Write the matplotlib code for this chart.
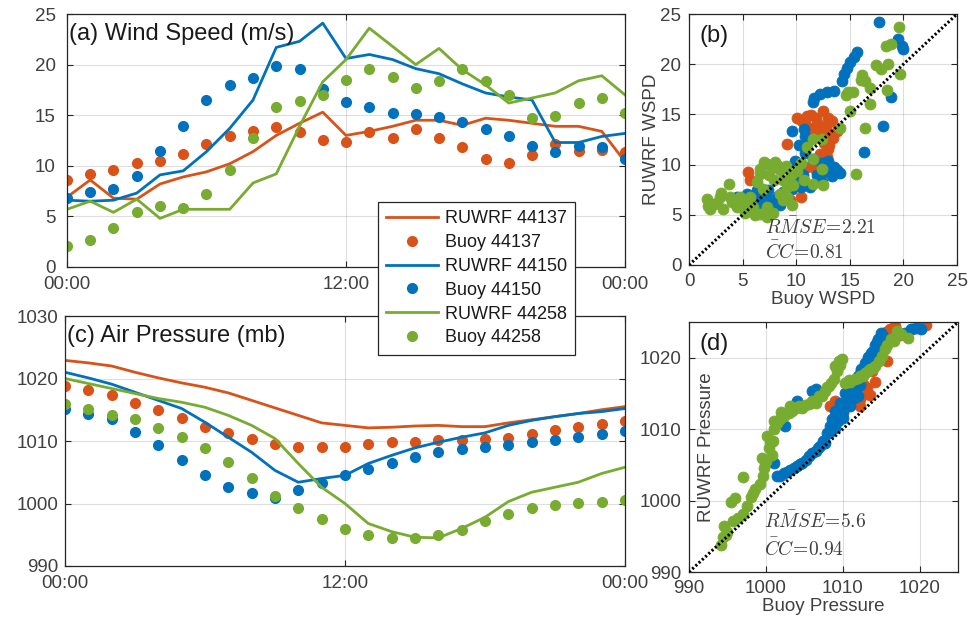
import matplotlib
matplotlib.use("Agg")
import matplotlib.pyplot as plt
import numpy as np

plt.rcParams["font.family"] = ["Liberation Sans", "DejaVu Sans"]
plt.rcParams["mathtext.fontset"] = "cm"

# hourly time axis, 00:00 to 00:00 next day
HOURS = np.arange(25)
TIME_TICKS = [0, 12, 24]
TIME_LABELS = ["00:00", "12:00", "00:00"]

STATIONS = ["44137", "44150", "44258"]
COLORS = ["#D95319", "#0072BD", "#77AC30"]

# wind speed (m/s), hourly
wrf_wspd_44137 = [6.9, 8.6, 6.8, 6.7, 8.2, 8.9, 9.4, 10.2, 11.4, 13.0, 14.2, 15.3, 13.0,
                  13.4, 13.9, 14.5, 14.5, 14.0, 14.7, 14.5, 14.2, 13.9, 13.9, 13.4, 10.4]
buoy_wspd_44137 = [8.6, 9.2, 9.6, 10.3, 10.5, 11.2, 12.2, 12.9, 13.4, 13.8, 13.3, 12.5, 12.4,
                   13.3, 12.7, 13.6, 12.7, 11.9, 10.7, 10.3, 11.1, 12.2, 11.5, 11.6, 11.4]
wrf_wspd_44150 = [6.6, 6.5, 6.6, 7.3, 9.1, 9.5, 11.4, 13.7, 16.5, 21.7, 22.3, 24.1, 20.6,
                  21.0, 20.5, 19.6, 19.1, 18.1, 17.2, 16.8, 16.5, 12.3, 12.3, 12.9, 13.2]
buoy_wspd_44150 = [6.8, 7.4, 7.7, 9.0, 11.5, 13.9, 16.5, 18.0, 18.7, 19.9, 19.6, 17.6, 16.3,
                   15.8, 15.2, 15.1, 14.8, 14.3, 13.6, 12.9, 12.0, 11.4, 12.0, 11.9, 10.7]
wrf_wspd_44258 = [5.7, 6.5, 5.4, 6.7, 4.8, 5.7, 5.7, 5.7, 8.3, 9.2, 13.9, 18.3, 20.5,
                  23.6, 21.8, 20.0, 21.6, 19.5, 18.0, 16.2, 16.7, 17.2, 18.4, 18.9, 17.0]
buoy_wspd_44258 = [2.1, 2.7, 3.9, 5.4, 6.0, 5.8, 7.2, 9.6, 12.7, 15.8, 16.4, 17.0, 18.5,
                   19.6, 18.8, 17.7, 18.4, 19.6, 18.4, 17.0, 14.7, 14.9, 16.2, 16.7, 15.2]

# air pressure (mb), hourly
wrf_pres_44137 = [1022.9, 1022.5, 1022.0, 1021.0, 1020.1, 1019.3, 1018.6, 1017.7, 1016.5,
                  1015.3, 1014.1, 1012.9, 1012.5, 1012.1, 1012.2, 1012.4, 1012.5, 1012.3,
                  1012.3, 1012.9, 1013.4, 1013.9, 1014.4, 1015.0, 1015.5]
buoy_pres_44137 = [1018.8, 1018.1, 1017.3, 1016.1, 1015.0, 1013.7, 1012.2, 1011.3, 1010.4,
                   1009.5, 1009.1, 1009.1, 1009.1, 1009.6, 1009.8, 1009.8, 1010.1, 1010.2,
                   1010.4, 1010.5, 1011.2, 1011.7, 1012.3, 1012.8, 1013.2]
wrf_pres_44150 = [1021.0, 1020.1, 1019.1, 1017.8, 1016.5, 1015.2, 1013.0, 1010.6, 1008.2,
                  1005.3, 1003.4, 1004.0, 1004.5, 1006.4, 1007.7, 1008.9, 1009.8, 1010.6,
                  1011.3, 1012.5, 1013.3, 1013.9, 1014.4, 1014.7, 1015.2]
buoy_pres_44150 = [1015.2, 1014.4, 1013.5, 1011.5, 1009.4, 1006.9, 1004.6, 1002.6, 1001.7,
                   1000.9, 1002.1, 1003.3, 1004.5, 1005.6, 1006.5, 1007.5, 1008.2, 1008.7,
                   1009.0, 1009.4, 1009.8, 1010.1, 1010.7, 1011.1, 1011.6]
wrf_pres_44258 = [1020.0, 1019.2, 1018.4, 1017.6, 1016.8, 1016.2, 1015.4, 1014.1, 1012.5,
                  1010.4, 1006.4, 1002.6, 1000.0, 996.8, 995.5, 994.6, 994.5, 996.0,
                  997.8, 1000.3, 1001.8, 1002.6, 1003.4, 1004.8, 1005.8]
buoy_pres_44258 = [1015.9, 1015.2, 1014.2, 1013.5, 1012.1, 1010.6, 1008.9, 1006.7, 1004.1,
                   1001.2, 999.3, 997.6, 995.9, 994.9, 994.4, 994.4, 994.9, 995.7,
                   997.2, 998.3, 999.3, 999.7, 1000.1, 1000.3, 1000.5]

# buoy vs model wind speed pairs
sc_wspd_buoy_44137 = [10.1, 10.5, 11.0, 11.8, 12.5, 13.0, 13.3, 13.8, 12.9, 12.1, 13.0, 12.9,
                      12.2, 11.6, 11.0, 10.4, 9.1, 5.5, 5.7, 7.9, 7.6, 10.4, 9.4, 12.0, 10.2,
                      12.6, 11.4, 10.8, 11.4, 12.0, 12.8, 13.4, 12.7, 11.8, 12.5, 13.1]
sc_wspd_wrf_44137 = [14.6, 14.3, 14.8, 14.6, 15.3, 14.6, 14.3, 13.3, 13.1, 13.3, 11.6, 10.8,
                     11.1, 10.1, 9.8, 9.1, 12.1, 9.3, 8.5, 6.5, 5.6, 6.8, 6.5, 8.9, 8.0,
                     12.2, 13.6, 14.0, 14.9, 14.0, 13.8, 12.6, 12.2, 9.5, 9.8, 12.0]
sc_wspd_buoy_44150 = [17.7, 19.5, 19.9, 20.0, 15.7, 15.4, 15.0, 14.7, 14.5, 14.3, 13.5, 12.9,
                      12.2, 11.7, 11.6, 18.8, 18.1, 16.3, 9.6, 10.7, 10.8, 11.0, 10.8, 11.6,
                      12.4, 13.0, 13.8, 14.1, 13.3, 12.4, 11.3, 10.4, 9.6, 8.8, 7.4, 6.3,
                      5.4, 4.5, 4.8, 5.7, 6.6, 7.9, 7.6, 8.3, 12.6, 13.5, 11.9, 10.6, 9.9,
                      10.3, 9.8, 7.0, 6.0, 8.5]
sc_wspd_wrf_44150 = [24.2, 22.5, 21.8, 21.5, 21.2, 20.7, 20.2, 19.6, 19.0, 18.3, 17.3, 17.2,
                     17.0, 16.6, 16.2, 16.7, 13.8, 11.3, 13.3, 13.5, 12.8, 12.2, 11.2, 10.6,
                     10.2, 10.4, 9.5, 9.2, 8.9, 8.3, 7.8, 7.8, 7.6, 7.3, 7.5, 7.5,
                     7.1, 6.8, 6.1, 6.5, 6.2, 5.8, 6.5, 6.9, 9.3, 9.8, 9.0, 9.0, 10.4,
                     12.0, 8.3, 6.9, 6.9, 6.0]
sc_wspd_buoy_44258 = [19.6, 18.8, 18.4, 17.4, 18.6, 16.1, 16.0, 14.6, 14.8, 16.9, 16.9, 18.5,
                      19.7, 15.0, 14.1, 16.4, 15.6, 11.0, 11.6, 12.4, 11.6, 12.4, 12.5, 11.6,
                      10.7, 9.7, 9.5, 8.8, 7.9, 7.3, 8.2, 6.6, 7.9, 6.3, 5.7, 4.8, 3.8, 2.9,
                      1.7, 2.0, 3.2, 4.5, 6.0, 6.6, 7.3, 7.3, 3.7, 9.1, 9.6, 9.1, 8.5, 2.6,
                      5.2, 7.0, 8.0, 8.5, 7.5, 6.6, 9.0, 10.1, 10.4, 6.2, 5.2, 4.0, 3.0,
                      2.3, 1.8, 7.8, 8.8, 6.9, 17.9, 16.4, 15.3]
sc_wspd_wrf_44258 = [23.7, 22.0, 21.8, 19.9, 20.0, 18.9, 18.4, 16.9, 17.2, 17.6, 16.0, 17.4,
                     19.0, 15.3, 13.6, 13.6, 9.1, 11.8, 12.5, 12.5, 10.6, 9.6, 8.0, 8.1,
                     8.5, 8.0, 9.0, 8.5, 9.8, 10.1, 10.0, 9.1, 8.5, 8.3, 6.8, 6.8, 6.8, 6.8,
                     6.6, 5.6, 5.6, 5.8, 5.8, 5.1, 4.8, 5.8, 8.1, 6.8, 6.0, 7.8, 7.1, 6.2,
                     6.3, 10.3, 10.3, 9.5, 9.0, 9.6, 9.9, 9.4, 10.2, 5.0, 5.2, 6.3, 7.2,
                     6.1, 5.9, 5.2, 6.5, 7.6, 19.5, 18.3, 17.2]

# buoy vs model pressure pairs
sc_pres_buoy_44137 = [1008.4, 1009.0, 1009.6, 1010.6, 1011.4, 1012.2, 1012.8, 1013.2, 1012.6,
                      1013.8, 1014.6, 1015.2, 1015.6, 1016.8, 1020.4, 1019.0, 1013.5, 1012.2,
                      1010.0, 1014.2, 1015.8, 1017.5, 1016.2, 1020.8]
sc_pres_wrf_44137 = [1013.3, 1013.9, 1012.8, 1013.4, 1014.0, 1014.2, 1014.9, 1015.8, 1016.3,
                     1018.2, 1020.0, 1021.6, 1023.6, 1024.4, 1024.4, 1024.0, 1014.8, 1013.3,
                     1012.3, 1016.6, 1019.5, 1023.2, 1024.0, 1024.6]
sc_pres_buoy_44150 = [1001.5, 1002.3, 1003.2, 1004.0, 1004.7, 1005.6, 1006.5, 1007.1, 1007.7,
                      1008.2, 1008.6, 1009.0, 1009.6, 1010.3, 1011.0, 1011.6, 1012.0, 1012.4,
                      1012.9, 1013.3, 1013.7, 1014.2, 1014.6, 1015.0, 1018.1, 1018.9, 1020.2,
                      1001.1, 1002.5, 1004.1, 1006.0, 1006.5, 1008.8, 1009.4, 1010.0, 1010.8,
                      1011.4, 1012.2, 1013.6, 1014.3, 1001.9, 1002.8, 1003.6, 1004.4, 1005.2,
                      1006.0, 1006.8, 1007.4, 1008.0, 1008.4, 1009.2, 1009.8, 1010.6, 1011.8,
                      1012.4, 1013.3, 1014.0, 1014.4, 1015.2, 1019.5, 1009.0, 1010.0, 1011.0,
                      1012.0]
sc_pres_wrf_44150 = [1003.5, 1003.9, 1004.3, 1004.8, 1005.3, 1006.2, 1007.0, 1007.6, 1008.1,
                     1009.5, 1011.4, 1012.6, 1013.7, 1015.1, 1015.4, 1015.6, 1017.4, 1018.4,
                     1019.3, 1020.1, 1020.7, 1021.8, 1022.6, 1023.5, 1023.5, 1024.0, 1024.0,
                     1005.2, 1010.5, 1014.0, 1015.3, 1015.6, 1010.5, 1011.2, 1012.6, 1014.0,
                     1014.3, 1016.2, 1019.8, 1020.5, 1003.4, 1004.0, 1004.6, 1005.1, 1005.7,
                     1006.6, 1007.4, 1008.3, 1009.4, 1010.4, 1012.0, 1013.0, 1014.2, 1016.4,
                     1018.2, 1019.8, 1021.0, 1022.2, 1023.0, 1024.1, 1010.2, 1011.5, 1013.2,
                     1014.6]
sc_pres_buoy_44258 = [994.4, 994.6, 995.0, 995.7, 995.5, 996.0, 997.0, 997.0, 998.1, 998.3,
                      999.2, 999.8, 1000.0, 1000.4, 1000.9, 1001.1, 1001.9, 1003.0, 1003.9,
                      1004.7, 1005.6, 1006.5, 1006.9, 1007.7, 1008.2, 1008.8, 1009.0, 1009.5,
                      1009.9, 1010.3, 1011.0, 1011.6, 1012.3, 1012.9, 1013.6, 1014.2, 1015.1,
                      1015.5, 1016.3, 1017.0, 1017.6, 1018.5, 999.5, 1000.2, 994.2, 1001.5,
                      1002.4, 1003.4, 1004.3, 1005.1, 1006.0, 1007.3, 1007.9, 1008.5, 1009.2,
                      1009.7, 1010.8, 1012.0, 1012.6, 1013.3, 1013.9, 1014.7, 1015.8, 1016.7,
                      999.6, 998.6, 997.6, 1000.6, 1000.8, 999.9, 996.4, 994.8, 1001.0,
                      1002.0, 1003.2]
sc_pres_wrf_44258 = [994.9, 996.5, 995.6, 997.2, 999.8, 1000.3, 998.1, 1003.3, 1000.5, 1001.0,
                     1002.3, 1004.5, 1005.6, 1007.4, 1008.3, 1010.0, 1011.4, 1012.3, 1013.0,
                     1013.0, 1013.5, 1013.7, 1014.6, 1015.3, 1016.0, 1017.0, 1018.8, 1019.5,
                     1019.8, 1016.5, 1016.6, 1017.0, 1017.4, 1017.9, 1018.4, 1018.8, 1020.2,
                     1021.2, 1022.6, 1023.7, 1023.3, 1022.8, 1006.0, 1009.0, 993.8, 1010.8,
                     1011.9, 1012.6, 1013.3, 1013.4, 1013.9, 1014.6, 1015.9, 1016.5, 1018.2,
                     1019.0, 1016.9, 1017.2, 1017.4, 1018.2, 1018.5, 1019.6, 1021.8, 1022.3,
                     1003.5, 1001.6, 999.2, 1008.0, 1006.4, 1005.2, 997.5, 995.2, 1011.2,
                     1012.4, 1013.2]

AX_COLOR = "#262626"
LABEL_COLOR = "#404040"
TICK_SIZE = 13.5


def style_axes(ax, ypad, xpad=5.5):
    """Matlab-like box: inward ticks on every side, faint grid."""
    ax.tick_params(direction="in", length=4, width=0.8, top=True, right=True,
                   color=AX_COLOR, labelcolor=LABEL_COLOR, labelsize=TICK_SIZE)
    ax.tick_params(axis="x", pad=xpad)
    ax.tick_params(axis="y", pad=ypad)
    ax.grid(True, color=AX_COLOR, alpha=0.15, linewidth=0.8)
    ax.set_axisbelow(True)
    for spine in ax.spines.values():
        spine.set_color(AX_COLOR)
        spine.set_linewidth(0.9)


def plot_series(ax, wrf, buoy, label_text, ylim, yticks, ypad):
    handles = []
    for station, color, w, b in zip(STATIONS, COLORS, wrf, buoy):
        line, = ax.plot(HOURS, w, color=color, lw=2.0, label=f"RUWRF {station}")
        dots, = ax.plot(HOURS, b, "o", color=color, ms=7, mec=color,
                        linestyle="none", label=f"Buoy {station}")
        handles += [line, dots]
    ax.set_xlim(0, 24)
    ax.set_xticks(TIME_TICKS)
    ax.set_xticklabels(TIME_LABELS)
    ax.set_ylim(*ylim)
    ax.set_yticks(yticks)
    style_axes(ax, ypad, xpad=6.5)
    ax.text(0.004, 0.965, label_text, transform=ax.transAxes, ha="left", va="top",
            fontsize=17, color="#1a1a1a")
    return handles


def plot_scatter(ax, xs, ys, lims, ticks, panel, stats, stat_pos, xlabel, ylabel,
                 xlabel_y, ylabel_x):
    for color, x, y in zip(COLORS, xs, ys):
        ax.scatter(x, y, s=62, color=color, edgecolors=color, linewidths=0.6, zorder=2)
    ax.plot(lims, lims, color="black", lw=2.2, linestyle=(0, (0.7, 0.75)), zorder=3)
    ax.set_xlim(*lims)
    ax.set_ylim(*lims)
    ax.set_xticks(ticks)
    ax.set_yticks(ticks)
    style_axes(ax, 5.5)
    ax.set_xlabel(xlabel, fontsize=TICK_SIZE, color=LABEL_COLOR)
    ax.set_ylabel(ylabel, fontsize=TICK_SIZE, color=LABEL_COLOR)
    ax.xaxis.set_label_coords(0.5, xlabel_y)
    ax.yaxis.set_label_coords(ylabel_x, 0.5)
    ax.text(0.04, 0.955, panel, transform=ax.transAxes, ha="left", va="top",
            fontsize=17, color="#1a1a1a")
    for (tx, ty), s in zip(stat_pos, stats):
        ax.text(tx, ty, s, fontsize=14, color=LABEL_COLOR, va="center", ha="left",
                zorder=4)


fig = plt.figure(figsize=(9.68, 6.2), dpi=100)
ax_a = fig.add_axes([0.0692, 0.5694, 0.5765, 0.408])
ax_b = fig.add_axes([0.7118, 0.5726, 0.2769, 0.4048])
ax_c = fig.add_axes([0.0671, 0.0871, 0.5785, 0.4032])
ax_d = fig.add_axes([0.7118, 0.0774, 0.2779, 0.4032])

legend_handles = plot_series(
    ax_a,
    [wrf_wspd_44137, wrf_wspd_44150, wrf_wspd_44258],
    [buoy_wspd_44137, buoy_wspd_44150, buoy_wspd_44258],
    "(a) Wind Speed (m/s)", (0, 25), np.arange(0, 26, 5), 8,
)
plot_series(
    ax_c,
    [wrf_pres_44137, wrf_pres_44150, wrf_pres_44258],
    [buoy_pres_44137, buoy_pres_44150, buoy_pres_44258],
    "(c) Air Pressure (mb)", (990, 1030), np.arange(990, 1031, 10), 4.5,
)

plot_scatter(
    ax_b,
    [sc_wspd_buoy_44137, sc_wspd_buoy_44150, sc_wspd_buoy_44258],
    [sc_wspd_wrf_44137, sc_wspd_wrf_44150, sc_wspd_wrf_44258],
    (0, 25), np.arange(0, 26, 5), "(b)",
    [r"$R\bar{M}SE\!=\!2.21$", r"$\bar{C}C\!=\!0.81$"], [(7.1, 3.7), (7.1, 1.3)],
    "Buoy WSPD", "RUWRF WSPD", -0.105, -0.11,
)
plot_scatter(
    ax_d,
    [sc_pres_buoy_44137, sc_pres_buoy_44150, sc_pres_buoy_44258],
    [sc_pres_wrf_44137, sc_pres_wrf_44150, sc_pres_wrf_44258],
    (990, 1025), np.arange(990, 1021, 10), "(d)",
    [r"$R\bar{M}SE\!=\!5.6$", r"$\bar{C}C\!=\!0.94$"], [(999.8, 997.1), (999.8, 993.2)],
    "Buoy Pressure", "RUWRF Pressure", -0.105, 0.097,
)

legend = fig.legend(
    legend_handles, [h.get_label() for h in legend_handles],
    loc="upper left", bbox_to_anchor=(378 / 968, 1 - 202 / 620), borderaxespad=0,
    fontsize=13, handlelength=2.9, labelspacing=0.38, borderpad=0.45,
    handletextpad=0.35, fancybox=False, framealpha=1, edgecolor=AX_COLOR,
)
legend.get_frame().set_linewidth(0.9)
for text in legend.get_texts():
    text.set_color("#1a1a1a")

fig.savefig("out.png", dpi=100)
